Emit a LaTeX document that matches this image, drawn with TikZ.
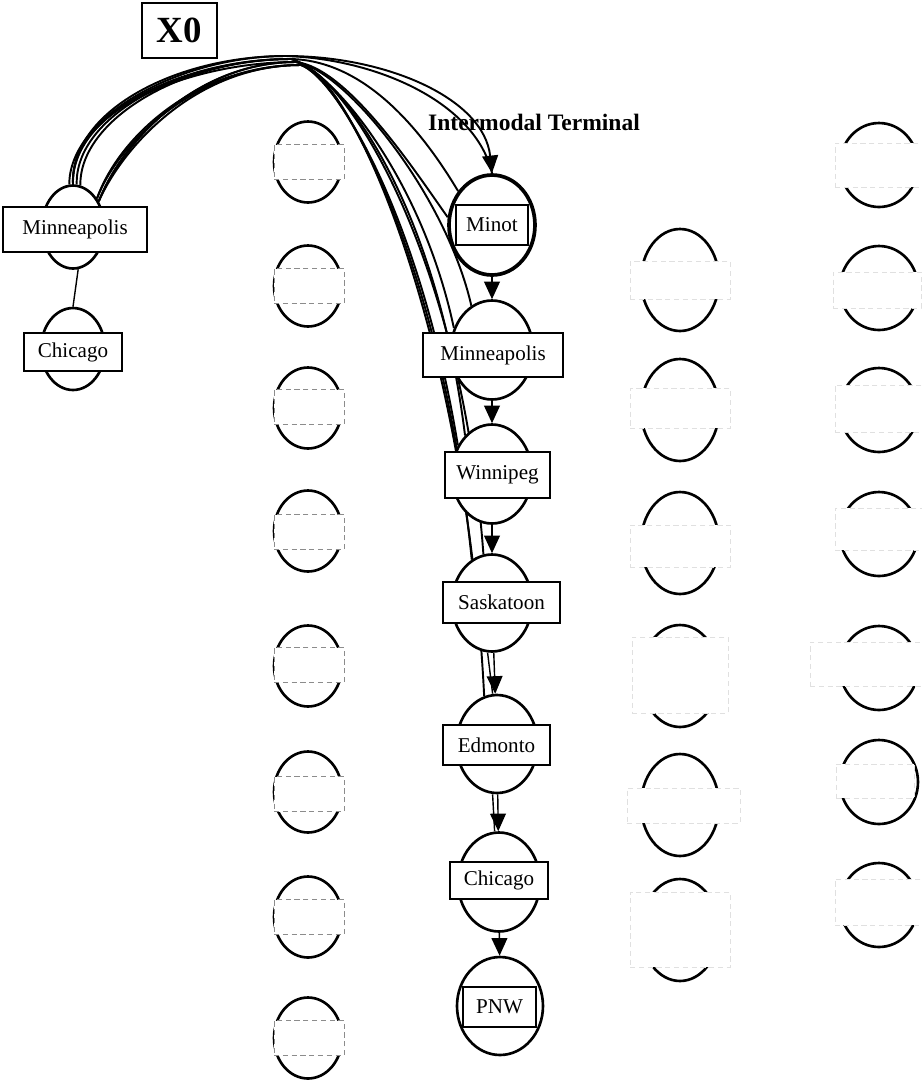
\documentclass[tikz,border=0pt]{standalone}
\usepackage{fontspec}
\setmainfont{Liberation Serif}
\usetikzlibrary{shapes.geometric, arrows.meta, backgrounds}

\begin{document}
\begin{tikzpicture}[x=0.02cm, y=-0.02cm,
	stn/.style={shape=ellipse, draw=black, fill=white, line width=1.5pt, minimum width=1.64cm, minimum height=1.98cm, inner sep=0pt},
	hole/.style={shape=ellipse, draw=black, line width=1.5pt, inner sep=0pt},
	emptyU/.style={hole, minimum width=1.36cm, minimum height=1.62cm},
	emptyV/.style={hole, minimum width=1.56cm, minimum height=2.04cm},
	emptyW/.style={hole, minimum width=1.56cm, minimum height=1.68cm},
	tag/.style={draw=black, fill=white, line width=1.1pt, inner sep=0pt, font=\fontsize{12}{14}\selectfont},
	blank/.style={draw=black!45, fill=white, densely dashed, line width=0.4pt, inner sep=0pt},
	blankU/.style={blank, minimum width=1.4cm, minimum height=0.7cm},
	blankV/.style={blank, draw=black!12, minimum width=2cm},
	blankW/.style={blank, draw=black!12, minimum width=1.8cm},
	wire/.style={line width=1.1pt}]

	\useasboundingbox (0,0) rectangle (921,1080);

	% start node and title
	\node[draw=black, line width=1.6pt, minimum width=1.5cm, minimum height=1.1cm, font=\fontsize{21}{24}\selectfont\bfseries] (x0) at (179.5,30.5) {X0};
	\node[anchor=base west, font=\fontsize{13.4}{16}\selectfont\bfseries] (imt) at (422,130) {Intermodal Terminal};

	\node[hole, fill=white, minimum width=1.24cm, minimum height=1.66cm] (mplsL) at (73,227) {};
	\node[hole, fill=white, minimum width=1.28cm, minimum height=1.64cm] (chiL) at (73,349) {};
	\node[tag, minimum width=2.88cm, minimum height=0.9cm] (mplsLT) at (75,229.5) {Minneapolis};
	\node[tag, minimum width=1.96cm, minimum height=0.76cm] (chiLT) at (73,352) {Chicago};

	% terminal chain
	\node[stn, minimum width=1.72cm, minimum height=2cm, line width=2.1pt] (minot) at (492,225) {};
	\node[stn] (mpls) at (492,350) {};
	\node[stn, minimum width=1.6cm] (wpg) at (492,474) {};
	\node[stn, minimum width=1.6cm, minimum height=1.94cm] (sask) at (492,603) {};
	\node[stn, minimum width=1.62cm, minimum height=1.96cm] (edm) at (497,744) {};
	\node[stn] (chi) at (499,882) {};
	\node[stn, minimum width=1.72cm, minimum height=1.96cm] (pnw) at (500,1006) {};

	\node[tag, minimum width=1.44cm, minimum height=0.8cm] (minotT) at (492,225) {Minot};
	\node[tag, minimum width=2.8cm, minimum height=0.88cm] (mplsT) at (493,355) {Minneapolis};
	\node[tag, minimum width=2.1cm, minimum height=0.92cm] (wpgT) at (497.5,475) {Winnipeg};
	\node[tag, minimum width=2.34cm, minimum height=0.82cm] (saskT) at (501.5,602.5) {Saskatoon};
	\node[tag, minimum width=2.14cm, minimum height=0.8cm] (edmT) at (496.5,745) {Edmonto};
	\node[tag, minimum width=1.96cm, minimum height=0.74cm] (chiT) at (499,880.5) {Chicago};
	\node[tag, minimum width=1.46cm, minimum height=0.8cm] (pnwT) at (499.5,1007) {PNW};

	% empty nodes
	\node[emptyU] (u1) at (308,162) {};  \node[blankU] (u1b) at (309,162) {};
	\node[emptyU] (u2) at (308,286) {};  \node[blankU] (u2b) at (309,286) {};
	\node[emptyU] (u3) at (308,408) {};  \node[blankU] (u3b) at (309,407) {};
	\node[emptyU] (u4) at (308,531) {};  \node[blankU] (u4b) at (309,532) {};
	\node[emptyU] (u5) at (308,666) {};  \node[blankU] (u5b) at (309,665) {};
	\node[emptyU] (u6) at (308,792) {};  \node[blankU] (u6b) at (309,794) {};
	\node[emptyU] (u7) at (308,917) {};  \node[blankU] (u7b) at (309,917) {};
	\node[emptyU] (u8) at (308,1038) {}; \node[blankU] (u8b) at (309,1038) {};

	\node[emptyV] (v1) at (680,280) {}; \node[blankV, minimum height=0.76cm] (v1b) at (680,280) {};
	\node[emptyV] (v2) at (680,410) {}; \node[blankV, minimum height=0.8cm] (v2b) at (680,408) {};
	\node[emptyV] (v3) at (680,543) {}; \node[blankV, minimum height=0.84cm] (v3b) at (680,546) {};
	\node[emptyV] (v4) at (680,676) {}; \node[blankV, minimum width=1.92cm, minimum height=1.52cm] (v4b) at (680,675) {};
	\node[emptyV] (v5) at (680,805) {}; \node[blankV, minimum width=2.26cm, minimum height=0.7cm] (v5b) at (683.5,805.5) {};
	\node[emptyV] (v6) at (680,930) {}; \node[blankV, minimum height=1.5cm] (v6b) at (680,929.5) {};

	\node[emptyW] (w1) at (879,165) {}; \node[blankW, minimum height=0.88cm] (w1b) at (880,165) {};
	\node[emptyW] (w2) at (879,288) {}; \node[blankW, minimum width=1.76cm, minimum height=0.72cm] (w2b) at (877,290) {};
	\node[emptyW] (w3) at (879,410) {}; \node[blankW, minimum height=0.94cm] (w3b) at (880,408.5) {};
	\node[emptyW] (w4) at (879,534) {}; \node[blankW, minimum height=0.84cm] (w4b) at (880,529) {};
	\node[emptyW] (w5) at (879,668) {}; \node[blankW, minimum width=2.24cm, minimum height=0.88cm] (w5b) at (866,664) {};
	\node[emptyW] (w6) at (879,782) {}; \node[blankW, minimum width=1.56cm, minimum height=0.68cm] (w6b) at (875,781) {};
	\node[emptyW] (w7) at (879,905) {}; \node[blankW, minimum height=0.92cm] (w7b) at (880,902) {};

	% chain arrows
	\draw[line width=0.8pt] (mplsL.-83) -- (chiL.north);
	\path[-{Triangle[length=10pt,width=9pt]}, thick] (minot) edge (mpls);
	\path[-{Triangle[length=10pt,width=9pt]}, thick] (mpls) edge (wpg);
	\path[-{Triangle[length=10pt,width=9pt]}, thick] (wpg) edge (sask);
	\path[-{Triangle[length=10pt,width=9pt]}, thick] (sask) edge (edm);
	\path[-{Triangle[length=10pt,width=9pt]}, thick] (edm) edge (chi);
	\path[-{Triangle[length=10pt,width=9pt]}, thick] (chi) edge (pnw);
	\draw[thick] ([xshift=-2.5pt]sask.south) -- ([xshift=-2.5pt]edm.north);
	\draw[thick] ([xshift=-2.5pt]edm.south) -- ([xshift=-2.5pt]chi.north);

	% routes out of X0
	\begin{scope}[on background layer]
	\coordinate (h1) at (286,56);
	\coordinate (h2) at (291,59);
	\coordinate (h3) at (296,62);
	\coordinate (h4) at (301,65);
	\draw[wire, -{Triangle[length=10pt,width=9pt]}] (mplsL.north) .. controls +(-3,-72) and +(-112,0) .. (h1) .. controls +(100,0) and +(-8,-75) .. (minot.north);
	\draw[wire] (mplsL.95) .. controls +(0,-68) and +(-106,0) .. (h1) .. controls +(92,3) and +(-16,-70) .. (minot.north);
	\draw[wire] (mplsL.north) .. controls +(-2,-70) and +(-110,0) .. (h2) .. controls +(80,2) and +(-30,-50) .. (minot.135);
	\draw[wire] (mplsL.45) .. controls +(25,-60) and +(-100,0) .. (h3) .. controls +(52,6) and +(-32,-45) .. (minot.170);
	\draw[wire] (mplsL.45) .. controls +(24,-62) and +(-98,0) .. (h3) .. controls +(50,8) and +(-25,-110) .. (mpls.115);
	\draw[wire] (mplsL.80) .. controls +(-1,-66) and +(-108,0) .. (h2) .. controls +(42,12) and +(-32,-150) .. (mpls.150);
	\draw[wire] (mplsL.50) .. controls +(22,-62) and +(-104,0) .. (h4) .. controls +(36,14) and +(-38,-230) .. (wpg.140);
	\draw[wire] (mplsL.85) .. controls +(-2,-68) and +(-109,0) .. (h2) .. controls +(46,12) and +(-30,-240) .. (wpg.125);
	\draw[wire] (mplsL.45) .. controls +(26,-58) and +(-102,0) .. (h4) .. controls +(40,12) and +(-30,-300) .. (sask.115);
	\draw[wire] (mplsL.north) .. controls +(-4,-74) and +(-106,0) .. (h3) .. controls +(50,12) and +(-22,-300) .. (sask.100);
	\draw[wire] (mplsL.50) .. controls +(23,-60) and +(-100,0) .. (h4) .. controls +(52,12) and +(-18,-360) .. (edm.105);
	\end{scope}

\end{tikzpicture}
\end{document}
